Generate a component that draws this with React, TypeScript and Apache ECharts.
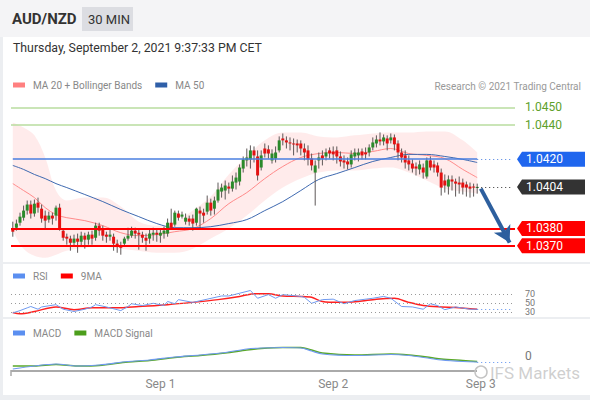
import React, { useEffect, useRef } from 'react';
import * as echarts from 'echarts';

const FONT = 'Roboto, "Liberation Sans", Arial, sans-serif';

// ---- candles (30 min) ----
const opens = [
  1.03799, 1.03804, 1.03833, 1.03862, 1.03903, 1.03938, 1.03886, 1.03949, 1.03914, 1.03874,
  1.03851, 1.03874, 1.03874, 1.03920, 1.03787, 1.03752, 1.03741, 1.03717, 1.03741, 1.03723,
  1.03758, 1.03735, 1.03764, 1.03746, 1.03816, 1.03793, 1.03764, 1.03752, 1.03752, 1.03712,
  1.03700, 1.03712, 1.03741, 1.03758, 1.03787, 1.03775, 1.03764, 1.03746, 1.03741, 1.03764,
  1.03775, 1.03758, 1.03770, 1.03770, 1.03833, 1.03822, 1.03886, 1.03868, 1.03839, 1.03857,
  1.03857, 1.03833, 1.03903, 1.03891, 1.03897, 1.03949, 1.03914, 1.03961, 1.04013, 1.04019,
  1.04042, 1.04030, 1.04065, 1.04071, 1.04146, 1.04193, 1.04199, 1.04251, 1.04216, 1.04152,
  1.04262, 1.04257, 1.04193, 1.04204, 1.04251, 1.04320, 1.04309, 1.04297, 1.04291, 1.04291,
  1.04291, 1.04262, 1.04251, 1.04204, 1.04123, 1.04193, 1.04222, 1.04216, 1.04251, 1.04245,
  1.04251, 1.04216, 1.04193, 1.04187, 1.04170, 1.04216, 1.04222, 1.04245, 1.04239, 1.04239,
  1.04268, 1.04291, 1.04314, 1.04303, 1.04320, 1.04309, 1.04326, 1.04291, 1.04239, 1.04222,
  1.04193, 1.04175, 1.04158, 1.04141, 1.04152, 1.04100, 1.04193, 1.04170, 1.04164, 1.04123,
  1.04077, 1.04042, 1.04083, 1.04071, 1.04065, 1.04065, 1.04054, 1.04042, 1.04042, 1.04036,
];
const closes = [
  1.03781, 1.03828, 1.03868, 1.03903, 1.03938, 1.03886, 1.03943, 1.03920, 1.03857, 1.03845,
  1.03874, 1.03857, 1.03920, 1.03799, 1.03746, 1.03741, 1.03717, 1.03741, 1.03723, 1.03758,
  1.03735, 1.03764, 1.03741, 1.03816, 1.03787, 1.03758, 1.03752, 1.03764, 1.03712, 1.03694,
  1.03688, 1.03741, 1.03758, 1.03787, 1.03770, 1.03764, 1.03746, 1.03729, 1.03770, 1.03775,
  1.03764, 1.03775, 1.03787, 1.03833, 1.03804, 1.03891, 1.03862, 1.03880, 1.03862, 1.03839,
  1.03828, 1.03914, 1.03886, 1.03874, 1.03949, 1.03903, 1.03961, 1.04025, 1.04036, 1.04048,
  1.04030, 1.04071, 1.04094, 1.04152, 1.04199, 1.04210, 1.04251, 1.04222, 1.04106, 1.04222,
  1.04233, 1.04233, 1.04233, 1.04239, 1.04309, 1.04309, 1.04297, 1.04291, 1.04286, 1.04280,
  1.04262, 1.04239, 1.04199, 1.04164, 1.04164, 1.04210, 1.04204, 1.04239, 1.04233, 1.04228,
  1.04216, 1.04187, 1.04181, 1.04170, 1.04228, 1.04239, 1.04239, 1.04222, 1.04228, 1.04268,
  1.04297, 1.04314, 1.04303, 1.04326, 1.04291, 1.04326, 1.04286, 1.04239, 1.04210, 1.04181,
  1.04170, 1.04146, 1.04146, 1.04170, 1.04123, 1.04193, 1.04152, 1.04152, 1.04123, 1.04036,
  1.04048, 1.04083, 1.04071, 1.04059, 1.04054, 1.04036, 1.04036, 1.04030, 1.04036, 1.04040,
];
const highs = [
  1.03839, 1.03851, 1.03891, 1.03932, 1.03961, 1.03961, 1.03967, 1.03978, 1.03938, 1.03903,
  1.03897, 1.03891, 1.03932, 1.03943, 1.03799, 1.03770, 1.03758, 1.03764, 1.03770, 1.03781,
  1.03775, 1.03781, 1.03787, 1.03833, 1.03833, 1.03816, 1.03781, 1.03793, 1.03770, 1.03735,
  1.03723, 1.03752, 1.03804, 1.03810, 1.03804, 1.03799, 1.03781, 1.03770, 1.03799, 1.03804,
  1.03793, 1.03799, 1.03810, 1.03857, 1.03914, 1.03903, 1.03903, 1.03897, 1.03886, 1.03874,
  1.03880, 1.03920, 1.03926, 1.03914, 1.03990, 1.03972, 1.03984, 1.04065, 1.04059, 1.04077,
  1.04065, 1.04106, 1.04123, 1.04170, 1.04216, 1.04262, 1.04280, 1.04274, 1.04251, 1.04251,
  1.04291, 1.04280, 1.04257, 1.04274, 1.04332, 1.04349, 1.04332, 1.04326, 1.04320, 1.04314,
  1.04309, 1.04291, 1.04280, 1.04233, 1.04193, 1.04239, 1.04251, 1.04262, 1.04268, 1.04274,
  1.04274, 1.04245, 1.04222, 1.04210, 1.04251, 1.04262, 1.04262, 1.04262, 1.04268, 1.04286,
  1.04326, 1.04338, 1.04355, 1.04343, 1.04338, 1.04349, 1.04343, 1.04309, 1.04262, 1.04251,
  1.04222, 1.04199, 1.04181, 1.04193, 1.04175, 1.04210, 1.04216, 1.04193, 1.04181, 1.04146,
  1.04112, 1.04106, 1.04106, 1.04088, 1.04100, 1.04088, 1.04071, 1.04065, 1.04059, 1.04059,
];
const lows = [
  1.03752, 1.03787, 1.03816, 1.03845, 1.03880, 1.03857, 1.03868, 1.03891, 1.03833, 1.03799,
  1.03833, 1.03822, 1.03845, 1.03787, 1.03729, 1.03706, 1.03671, 1.03694, 1.03659, 1.03700,
  1.03683, 1.03706, 1.03706, 1.03729, 1.03758, 1.03729, 1.03717, 1.03729, 1.03671, 1.03659,
  1.03648, 1.03694, 1.03729, 1.03746, 1.03741, 1.03677, 1.03717, 1.03671, 1.03712, 1.03729,
  1.03723, 1.03717, 1.03741, 1.03752, 1.03793, 1.03810, 1.03845, 1.03857, 1.03822, 1.03816,
  1.03787, 1.03816, 1.03799, 1.03833, 1.03880, 1.03874, 1.03880, 1.03949, 1.03978, 1.03967,
  1.04001, 1.04013, 1.04025, 1.04048, 1.04123, 1.04158, 1.04146, 1.04181, 1.04077, 1.04135,
  1.04210, 1.04204, 1.04175, 1.04181, 1.04239, 1.04280, 1.04262, 1.04251, 1.04222, 1.04239,
  1.04222, 1.04193, 1.04164, 1.04135, 1.03932, 1.04146, 1.04164, 1.04193, 1.04204, 1.04193,
  1.04175, 1.04158, 1.04146, 1.04141, 1.04152, 1.04193, 1.04187, 1.04199, 1.04199, 1.04216,
  1.04251, 1.04268, 1.04280, 1.04280, 1.04251, 1.04291, 1.04251, 1.04193, 1.04181, 1.04146,
  1.04135, 1.04123, 1.04106, 1.04112, 1.04088, 1.04088, 1.04135, 1.04123, 1.04100, 1.03990,
  1.04007, 1.03996, 1.04019, 1.03984, 1.04001, 1.03996, 1.03984, 1.03978, 1.03984, 1.04001,
];

// ---- x axis ----
const SLOTS = 140;
const dayLabels = ['Sep 1', 'Sep 2', 'Sep 3'];
const dayLabelIdx = [41, 89, 130];

// ---- MA 20 + Bollinger bands, MA 50 (read at these candle indices) ----
const bandIdx = [0, 3, 6, 9, 12, 15, 20, 25, 30, 35, 40, 45, 50, 55, 60, 65, 70, 75, 80, 85, 90, 95, 100, 105, 110, 115, 120, 125, 129];
const bbUpper = [1.04413, 1.04384, 1.04338, 1.04210, 1.04019, 1.03961, 1.03978, 1.03978, 1.03926, 1.03839, 1.03816, 1.03833, 1.03903, 1.03984, 1.04112, 1.04216, 1.04309, 1.04355, 1.04355, 1.04332, 1.04326, 1.04338, 1.04349, 1.04355, 1.04355, 1.04361, 1.04361, 1.04309, 1.04239];
const bbLower = [1.03787, 1.03683, 1.03642, 1.03630, 1.03648, 1.03671, 1.03688, 1.03694, 1.03683, 1.03671, 1.03659, 1.03659, 1.03683, 1.03741, 1.03799, 1.03874, 1.03961, 1.04036, 1.04088, 1.04123, 1.04135, 1.04135, 1.04146, 1.04152, 1.04123, 1.04077, 1.04030, 1.04013, 1.04001];
const ma20 = [1.04059, 1.04019, 1.03978, 1.03920, 1.03880, 1.03862, 1.03845, 1.03816, 1.03775, 1.03758, 1.03764, 1.03781, 1.03799, 1.03857, 1.03943, 1.04007, 1.04088, 1.04158, 1.04210, 1.04233, 1.04239, 1.04233, 1.04245, 1.04262, 1.04233, 1.04222, 1.04204, 1.04141, 1.04094];
const ma50 = [1.04164, 1.04141, 1.04112, 1.04088, 1.04059, 1.04036, 1.03996, 1.03955, 1.03909, 1.03868, 1.03828, 1.03804, 1.03804, 1.03810, 1.03828, 1.03851, 1.03903, 1.03955, 1.04019, 1.04083, 1.04117, 1.04152, 1.04187, 1.04210, 1.04228, 1.04228, 1.04216, 1.04199, 1.04181];

// ---- RSI ----
const rsiIdx = [0, 2, 4, 5, 7, 8, 12, 14, 17, 20, 22, 23, 26, 30, 32, 33, 36, 39, 42, 43, 45, 46, 50, 54, 58, 60, 63, 66, 68, 71, 73, 75, 80, 81, 83, 86, 89, 92, 95, 97, 100, 103, 105, 108, 111, 114, 116, 118, 120, 123, 127, 129];
const rsi = [29, 34, 40, 43, 37, 42, 47, 37, 32, 37, 42, 47, 42, 34, 43, 49, 45, 50, 45, 54, 49, 58, 52, 59, 66, 66, 72, 78, 61, 69, 61, 69, 65, 63, 50, 58, 59, 49, 56, 58, 61, 65, 61, 43, 42, 37, 49, 45, 36, 42, 37, 37];
const rsiMaIdx = [0, 2, 6, 12, 17, 22, 29, 35, 43, 50, 57, 63, 67, 71, 75, 80, 83, 86, 91, 96, 101, 106, 110, 114, 119, 123, 129];
const rsiMa = [30, 27, 32, 42, 36, 40, 40, 43, 47, 52, 58, 65, 71, 71, 66, 65, 63, 54, 52, 54, 59, 61, 52, 45, 42, 41, 37];
const rsiLevels = [70, 50, 30];

// ---- MACD ----
const macdIdx = [0, 6, 12, 18, 24, 32, 38, 45, 52, 59, 65, 69, 75, 80, 83, 86, 95, 105, 110, 116, 119, 125, 129];
const macd = [-0.00026, -0.0002, -0.00016, -0.0002, -0.00018, -0.00011, -0.00008, -0.00002, 0.00002, 0.00007, 0.00014, 0.00016, 0.00017, 0.00016, 0.0001, 0.00004, 0.00001, 0.00003, 0.00001, -0.00005, -0.00008, -0.00011, -0.00012];
const macdSignal = [-0.0002, -0.0002, -0.00017, -0.0002, -0.00019, -0.00012, -0.00009, -0.00003, 0.00001, 0.00006, 0.00012, 0.00015, 0.00017, 0.00017, 0.00012, 0.00006, 0.00002, 0.00004, 0.00002, -0.00003, -0.00006, -0.00009, -0.00011];

// ---- levels ----
const targetLevels = [1.045, 1.044];
const pivotLevel = 1.042;
const lastPrice = 1.0404;
const supportLevels = [1.038, 1.037];
const arrowFrom = [130, 1.0403];
const arrowTo = [138.3, 1.03718];

const tagValues = [pivotLevel, lastPrice, ...supportLevels];
const tagColors = ['#1f66ee', '#333333', '#ff0000', '#ff0000'];

const categories = Array.from({ length: SLOTS }, (_, i) => {
  const k = dayLabelIdx.indexOf(i);
  return k >= 0 ? dayLabels[k] : '';
});
const pairs = (idx: number[], vals: number[]) => idx.map((x, k) => [x, vals[k]]);

export default function App() {
  const ref = useRef<HTMLDivElement>(null);
  useEffect(() => {
    document.body.style.margin = '0';
    const chart = echarts.init(ref.current as HTMLDivElement, null, { renderer: 'svg' });
    const lastIdx = closes.length - 1;
    const candleData = closes.map((c, i) => [i, opens[i], c, lows[i], highs[i]]);
    const legendText = { color: '#888', fontSize: 10, fontFamily: FONT, padding: [0, 0, 0, 3] };
    const legendBase = { left: 13, padding: 0, icon: 'rect', itemWidth: 12, itemHeight: 5, itemGap: 13, textStyle: legendText, selectedMode: false };
    const hiddenX = (gi: number) => ({
      type: 'category', gridIndex: gi, data: categories, boundaryGap: true,
      axisLine: { show: false }, axisTick: { show: false }, axisLabel: { show: false }, splitLine: { show: false },
    });
    const option: any = {
      animation: false,
      textStyle: { fontFamily: FONT },
      grid: [
        { left: 11, right: 75, top: 93.5, height: 169.5, containLabel: false, outerBoundsMode: 'none' },
        { left: 11, right: 75, top: 285, height: 32, containLabel: false, outerBoundsMode: 'none' },
        { left: 11, right: 75, top: 341, height: 30, containLabel: false, outerBoundsMode: 'none' },
      ],
      legend: [
        {
          ...legendBase, top: 80,
          data: [
            { name: 'MA 20 + Bollinger Bands', itemStyle: { color: '#ff8080' } },
            { name: 'MA 50', itemStyle: { color: '#2f5fa8' } },
          ],
        },
        {
          ...legendBase, top: 271,
          data: [
            { name: 'RSI', itemStyle: { color: '#5b8ff0' } },
            { name: '9MA', itemStyle: { color: '#ff0000' } },
          ],
        },
        {
          ...legendBase, top: 328,
          data: [
            { name: 'MACD', itemStyle: { color: '#5b8ff0' } },
            { name: 'MACD Signal', itemStyle: { color: '#4c9e1c' } },
          ],
        },
      ],
      xAxis: [
        hiddenX(0),
        hiddenX(1),
        {
          type: 'category', gridIndex: 2, data: categories, boundaryGap: true,
          axisLine: { show: false }, axisTick: { show: false }, splitLine: { show: false },
          axisLabel: { show: true, interval: 0, color: '#888', fontSize: 12, margin: 7, fontFamily: FONT },
        },
      ],
      yAxis: [
        { type: 'value', gridIndex: 0, min: 1.036, max: 1.0458, show: false, splitLine: { show: false } },
        {
          type: 'value', gridIndex: 1, min: 20, max: 90, interval: 10, position: 'right',
          axisLine: { show: false }, axisTick: { show: false }, splitLine: { show: false },
          axisLabel: {
            margin: 10, color: '#777', fontSize: 9, fontFamily: FONT,
            formatter: (v: number) => (rsiLevels.includes(Math.round(v)) ? String(Math.round(v)) : ''),
          },
        },
        {
          type: 'value', gridIndex: 2, min: -0.0003, max: 0.0003, interval: 0.0001, position: 'right',
          axisLine: { show: false }, axisTick: { show: false }, splitLine: { show: false },
          axisLabel: {
            margin: 10, color: '#777', fontSize: 12, fontFamily: FONT,
            formatter: (v: number) => (Math.abs(v) < 1e-9 ? '0' : ''),
          },
        },
      ],
      series: [
        {
          name: 'bbLower', type: 'line', xAxisIndex: 0, yAxisIndex: 0, stack: 'bb', smooth: 0.35,
          data: pairs(bandIdx, bbLower), symbol: 'none', lineStyle: { opacity: 0 }, z: 1, silent: true,
        },
        {
          name: 'bbWidth', type: 'line', xAxisIndex: 0, yAxisIndex: 0, stack: 'bb', smooth: 0.35,
          data: bandIdx.map((x, k) => [x, bbUpper[k] - bbLower[k]]), symbol: 'none',
          lineStyle: { opacity: 0 }, areaStyle: { color: 'rgba(255,110,110,0.2)' }, z: 1, silent: true,
        },
        {
          name: 'MA 20 + Bollinger Bands', type: 'line', xAxisIndex: 0, yAxisIndex: 0, smooth: 0.35,
          data: pairs(bandIdx, ma20), symbol: 'none', lineStyle: { color: '#ff8a8a', width: 1 }, itemStyle: { color: '#ff8080' }, z: 2,
        },
        {
          name: 'MA 50', type: 'line', xAxisIndex: 0, yAxisIndex: 0, smooth: 0.35,
          data: pairs(bandIdx, ma50), symbol: 'none', lineStyle: { color: '#3e69b0', width: 1 }, itemStyle: { color: '#2f5fa8' }, z: 2,
        },
        {
          name: 'candles', type: 'custom', xAxisIndex: 0, yAxisIndex: 0, z: 3,
          encode: { x: 0, y: [1, 2, 3, 4] },
          data: candleData,
          renderItem: (params: any, api: any) => {
            const i = api.value(0);
            const o = api.coord([i, api.value(1)]);
            const c = api.coord([i, api.value(2)]);
            const l = api.coord([i, api.value(3)]);
            const h = api.coord([i, api.value(4)]);
            const up = api.value(2) >= api.value(1);
            const w = 3;
            const top = Math.min(o[1], c[1]);
            const hgt = Math.max(Math.abs(o[1] - c[1]), 1);
            return {
              type: 'group',
              children: [
                { type: 'line', shape: { x1: h[0], y1: h[1], x2: l[0], y2: l[1] }, style: { stroke: '#5e5858', lineWidth: 1 } },
                { type: 'rect', shape: { x: o[0] - w / 2, y: top, width: w, height: hgt }, style: { fill: up ? '#2b8a2b' : '#e41111' } },
              ],
            };
          },
        },
        {
          name: 'levels', type: 'line', xAxisIndex: 0, yAxisIndex: 0, z: 5,
          data: [[lastIdx, closes[lastIdx]]], symbol: 'none', lineStyle: { opacity: 0 },
          markLine: {
            silent: true, symbol: ['none', 'none'], label: { show: false }, animation: false, precision: 6,
            data: [
              ...targetLevels.map((v) => ({ yAxis: v, lineStyle: { color: '#b9dc9f', width: 1.5, type: 'solid' } })),
              [
                { coord: [0, pivotLevel], lineStyle: { color: '#4a7fe0', width: 1.5, type: 'solid' } },
                { coord: [lastIdx, pivotLevel] },
              ],
              [
                { coord: [lastIdx, pivotLevel], lineStyle: { color: '#4a7fe0', width: 1.2, type: [1, 3] } },
                { coord: [SLOTS - 1, pivotLevel] },
              ],
              [
                { coord: [lastIdx, lastPrice], lineStyle: { color: '#333', width: 1.2, type: [1, 3] } },
                { coord: [SLOTS - 1, lastPrice] },
              ],
              ...supportLevels.map((v) => ({ yAxis: v, lineStyle: { color: '#ff0000', width: 2, type: 'solid' } })),
              [
                { coord: arrowFrom, symbol: 'none', lineStyle: { color: '#2d5f9e', width: 4, type: 'solid' } },
                { coord: arrowTo, symbol: 'arrow', symbolSize: [14, 16], itemStyle: { color: '#2d5f9e' } },
              ],
            ],
          },
        },
        {
          name: 'tags', type: 'custom', xAxisIndex: 0, yAxisIndex: 0, z: 6, clip: false, silent: true,
          encode: { x: 0, y: 1 },
          data: [...tagValues.map((v) => [SLOTS - 1, v, 1]), ...targetLevels.map((v) => [SLOTS - 1, v, 0])],
          renderItem: (params: any, api: any) => {
            const v = api.value(1);
            const boxed = api.value(2) === 1;
            const p = api.coord([SLOTS - 1, v]);
            const right = params.coordSys.x + params.coordSys.width;
            const y = p[1];
            const tip = right + 2;
            const txt = v.toFixed(4);
            if (!boxed) {
              return { type: 'text', x: tip + 8, y, style: { text: txt, fill: '#5da02a', fontSize: 12, fontFamily: FONT, verticalAlign: 'middle' } };
            }
            const color = tagColors[params.dataIndex];
            return {
              type: 'group',
              children: [
                { type: 'polygon', shape: { points: [[tip, y], [tip + 5, y - 7.5], [right + 70, y - 7.5], [right + 70, y + 7.5], [tip + 5, y + 7.5]] }, style: { fill: color } },
                { type: 'text', x: tip + 9, y, style: { text: txt, fill: '#fff', fontSize: 12, fontFamily: FONT, verticalAlign: 'middle' } },
              ],
            };
          },
        },
        {
          name: 'RSI', type: 'line', xAxisIndex: 1, yAxisIndex: 1, data: pairs(rsiIdx, rsi), symbol: 'none',
          lineStyle: { color: '#6f9af0', width: 1 }, itemStyle: { color: '#5b8ff0' }, z: 3,
          markLine: {
            silent: true, symbol: ['none', 'none'], label: { show: false }, precision: 4,
            data: [
              ...rsiLevels.map((v) => ({ yAxis: v, lineStyle: { color: '#9a9a9a', width: 1, type: [1, 3] } })),
              [
                { coord: [lastIdx, rsi[rsi.length - 1]], lineStyle: { color: '#5b8ff0', width: 1.2, type: [1, 3] } },
                { coord: [SLOTS - 1, rsi[rsi.length - 1]] },
              ],
            ],
          },
        },
        {
          name: '9MA', type: 'line', xAxisIndex: 1, yAxisIndex: 1, data: pairs(rsiMaIdx, rsiMa), symbol: 'none', smooth: 0.3,
          lineStyle: { color: '#ff2020', width: 1.5 }, itemStyle: { color: '#ff0000' }, z: 2,
        },
        {
          name: 'MACD Signal', type: 'line', xAxisIndex: 2, yAxisIndex: 2, data: pairs(macdIdx, macdSignal), symbol: 'none', smooth: 0.3,
          lineStyle: { color: '#5aa82a', width: 1.5 }, itemStyle: { color: '#4c9e1c' }, z: 2,
        },
        {
          name: 'MACD', type: 'line', xAxisIndex: 2, yAxisIndex: 2, data: pairs(macdIdx, macd), symbol: 'none', smooth: 0.3,
          lineStyle: { color: '#6f9af0', width: 1.2 }, itemStyle: { color: '#5b8ff0' }, z: 3,
          markLine: {
            silent: true, symbol: ['none', 'none'], label: { show: false },
            data: [
              [
                { coord: [lastIdx, macd[macd.length - 1]], lineStyle: { color: '#5b8ff0', width: 1.2, type: [1, 3] } },
                { coord: [SLOTS - 1, macd[macd.length - 1]] },
              ],
            ],
          },
        },
      ],
      graphic: [
        { type: 'rect', z: -10, silent: true, shape: { x: 0, y: 0, width: 590, height: 400 }, style: { fill: '#eceef1' } },
        { type: 'rect', z: -9, silent: true, shape: { x: 0, y: 0, width: 590, height: 37 }, style: { fill: '#f4f4f6' } },
        { type: 'rect', z: -9, silent: true, shape: { x: 3, y: 37, width: 587, height: 358 }, style: { fill: '#ffffff' } },
        { type: 'rect', z: -8, silent: true, shape: { x: 3, y: 262, width: 587, height: 2 }, style: { fill: '#eceef1' } },
        { type: 'rect', z: -8, silent: true, shape: { x: 3, y: 317, width: 587, height: 2 }, style: { fill: '#eceef1' } },
        { type: 'rect', z: -8, silent: true, shape: { x: 82, y: 7, width: 51, height: 24 }, style: { fill: '#dcdde2' } },
        { type: 'text', z: 10, x: 12, y: 19, style: { text: 'AUD/NZD', fill: '#333', fontSize: 15, fontWeight: 'bold', fontFamily: FONT, verticalAlign: 'middle' } },
        { type: 'text', z: 10, x: 88, y: 19, style: { text: '30 MIN', fill: '#333', fontSize: 13, fontFamily: FONT, verticalAlign: 'middle' } },
        { type: 'text', z: 10, x: 13, y: 48, style: { text: 'Thursday, September 2, 2021 9:37:33 PM CET', fill: '#333', fontSize: 12.3, fontFamily: FONT, verticalAlign: 'middle' } },
        { type: 'text', z: 10, x: 581, y: 86, style: { text: 'Research © 2021 Trading Central', fill: '#999', fontSize: 10, fontFamily: FONT, verticalAlign: 'middle', align: 'right' } },
        { type: 'line', z: 4, silent: true, shape: { x1: 11, y1: 371, x2: 477, y2: 371 }, style: { stroke: '#aaaaaa', lineWidth: 2 } },
        { type: 'line', z: 4, silent: true, shape: { x1: 11, y1: 370, x2: 11, y2: 376 }, style: { stroke: '#aaaaaa', lineWidth: 1.5 } },
        { type: 'circle', z: 11, silent: true, shape: { cx: 481, cy: 372, r: 6 }, style: { fill: 'none', stroke: '#c4c4c4', lineWidth: 1.5 } },
        { type: 'text', z: 11, x: 490, y: 373, style: { text: 'IFS Markets', fill: 'rgba(175,175,175,0.6)', fontSize: 17, fontFamily: FONT, verticalAlign: 'middle' } },
      ],
    };
    chart.setOption(option);
    return () => chart.dispose();
  }, []);
  return <div ref={ref} style={{ position: 'absolute', left: 0, top: 0, width: 590, height: 400 }} />;
}
